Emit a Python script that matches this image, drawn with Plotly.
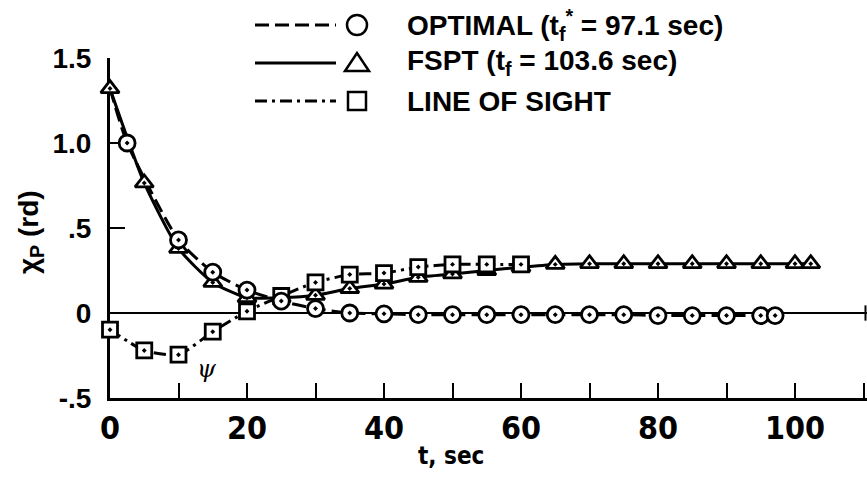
import plotly.graph_objects as go

# ---------------- data ----------------
t_opt = [0, 2.5, 10, 15, 20, 25, 30, 35, 40, 45, 50, 55, 60, 65, 70, 75, 80, 85, 90, 95, 97.1]
x_opt = [1.32, 1.0, 0.43, 0.24, 0.135, 0.07, 0.026, 0.0, -0.005, -0.01, -0.01, -0.01, -0.01,
         -0.01, -0.01, -0.01, -0.015, -0.015, -0.015, -0.015, -0.015]

t_fspt = [0, 5, 10, 15, 20, 25, 30, 35, 40, 45, 50, 55, 60, 65, 70, 75, 80, 85, 90, 95, 100, 102.3]
x_fspt = [1.32, 0.765, 0.38, 0.18, 0.09, 0.09, 0.104, 0.144, 0.17, 0.21, 0.23, 0.25, 0.27,
          0.286, 0.29, 0.29, 0.29, 0.29, 0.29, 0.29, 0.29, 0.29]

t_los = [0, 5, 10, 15, 20, 25, 30, 35, 40, 45, 50, 55, 60]
x_los = [-0.098, -0.22, -0.245, -0.11, 0.01, 0.10, 0.18, 0.226, 0.235, 0.27, 0.286, 0.286, 0.286]

x_ticks = [0, 20, 40, 60, 80, 100]
y_ticks = [-0.5, 0, 0.5, 1.0, 1.5]
y_ticktext = ["-.5", "0", ".5", "1.0", "1.5"]

legend_labels = [
    "OPTIMAL (t<sub>f</sub><sup>*</sup> = 97.1 sec)",
    "FSPT (t<sub>f</sub> = 103.6 sec)",
    "LINE OF SIGHT",
]

# ---------------- layout geometry ----------------
W, H = 867, 482
ML, MR, MT, MB = 110, 0, 58, 84
PW, PH = W - ML - MR, H - MT - MB
XMAX = PW / 6.85
BOLD = "Liberation Sans, Arial, sans-serif"
NARROW = "Liberation Sans Narrow, DejaVu Sans Condensed, Arial Narrow, sans-serif"


def px(p):
    return (p - ML) / PW


def py(p):
    return (H - MB - p) / PH


fig = go.Figure()

OPT_DASH = "14px,6px"
LOS_DASH = "12px,5px,3px,5px"

# lines
fig.add_trace(go.Scatter(x=t_los, y=x_los, mode="lines", line=dict(color="black", width=3, dash=LOS_DASH, shape="spline", smoothing=0.6), hoverinfo="skip"))
fig.add_trace(go.Scatter(x=t_fspt, y=x_fspt, mode="lines", line=dict(color="black", width=3, shape="spline", smoothing=0.6), hoverinfo="skip"))
fig.add_trace(go.Scatter(x=t_opt, y=x_opt, mode="lines", line=dict(color="black", width=3, dash=OPT_DASH, shape="spline", smoothing=0.6), hoverinfo="skip"))

# markers
fig.add_trace(go.Scatter(x=t_fspt, y=x_fspt, mode="markers", cliponaxis=False, hoverinfo="skip",
                         marker=dict(symbol="triangle-up-dot", size=16, color="white", line=dict(color="black", width=2.8))))
fig.add_trace(go.Scatter(x=t_los, y=x_los, mode="markers", cliponaxis=False, hoverinfo="skip",
                         marker=dict(symbol="square-dot", size=15, color="white", line=dict(color="black", width=2.8))))
fig.add_trace(go.Scatter(x=t_opt[1:], y=x_opt[1:], mode="markers", cliponaxis=False, hoverinfo="skip",
                         marker=dict(symbol="circle-dot", size=16, color="white", line=dict(color="black", width=2.8))))

shapes = []
annotations = []

# right-end tick on the zero line
shapes.append(dict(type="line", xref="paper", yref="y", x0=0.998, x1=0.998, y0=-0.045, y1=0.045,
                   line=dict(color="black", width=2)))

# ---------------- manual legend ----------------
rows = [25, 63, 101]
for i, (yy, lab) in enumerate(zip(rows, legend_labels)):
    dash = [OPT_DASH, "solid", LOS_DASH][i]
    shapes.append(dict(type="line", xref="paper", yref="paper", x0=px(255), x1=px(336), y0=py(yy), y1=py(yy),
                       line=dict(color="black", width=3, dash=dash)))
    annotations.append(dict(xref="paper", yref="paper", x=px(405), y=py(yy), text=lab, showarrow=False,
                            xanchor="left", yanchor="middle", font=dict(family=BOLD, size=28, color="black", weight="bold")))

# legend symbols
cx = 357
r = 10
shapes.append(dict(type="circle", xref="paper", yref="paper", x0=px(cx - r), x1=px(cx + r), y0=py(rows[0] - r), y1=py(rows[0] + r),
                   line=dict(color="black", width=2.5), fillcolor="white"))
tri = f"M {px(cx - 12)} {py(rows[1] + 8)} L {px(cx + 12)} {py(rows[1] + 8)} L {px(cx)} {py(rows[1] - 10)} Z"
shapes.append(dict(type="path", xref="paper", yref="paper", path=tri, line=dict(color="black", width=2.5), fillcolor="white"))
shapes.append(dict(type="rect", xref="paper", yref="paper", x0=px(cx - 9), x1=px(cx + 9), y0=py(rows[2] - 9), y1=py(rows[2] + 9),
                   line=dict(color="black", width=2.5), fillcolor="white"))

# axis titles / labels
annotations.append(dict(xref="paper", yref="paper", x=px(451), y=py(456), text="t, sec", showarrow=False,
                        xanchor="center", yanchor="middle", font=dict(family=NARROW, size=24, color="black", weight="bold")))
annotations.append(dict(xref="paper", yref="paper", x=px(30), y=py(232), text="χ<sub>P</sub> (rd)", showarrow=False,
                        textangle=-90, xanchor="center", yanchor="middle", font=dict(family=BOLD, size=28, color="black", weight="bold")))
annotations.append(dict(xref="x", yref="y", x=14.2, y=-0.33, text="<i>ψ</i>", showarrow=False,
                        font=dict(family="DejaVu Serif, serif", size=24, color="black")))

fig.update_layout(
    width=W, height=H, autosize=False,
    margin=dict(l=ML, r=MR, t=MT, b=MB, pad=0),
    paper_bgcolor="white", plot_bgcolor="white",
    showlegend=False, hovermode=False,
    shapes=shapes, annotations=annotations,
    xaxis=dict(range=[0, XMAX], showline=True, linecolor="black", linewidth=3, mirror=False,
               ticks="inside", ticklen=15, tickwidth=2, tickcolor="black",
               tickvals=x_ticks, showgrid=False, zeroline=False,
               tickfont=dict(family=NARROW, size=32, color="black", weight="bold"), ticklabelstandoff=0,
               minor=dict(dtick=10, tick0=0, ticks="inside", ticklen=15, tickwidth=2, tickcolor="black", showgrid=False)),
    yaxis=dict(range=[-0.5, 1.5], showline=True, linecolor="black", linewidth=3,
               ticks="inside", ticklen=15, tickwidth=2, tickcolor="black",
               tickvals=y_ticks, ticktext=y_ticktext, showgrid=False,
               zeroline=True, zerolinecolor="black", zerolinewidth=2, layer="below traces",
               tickfont=dict(family=BOLD, size=28, color="black", weight="bold"), ticklabelstandoff=10),
)

fig.write_html("out.html", config={"displayModeBar": False, "staticPlot": True},
               post_script="document.body.style.margin='0px';")
